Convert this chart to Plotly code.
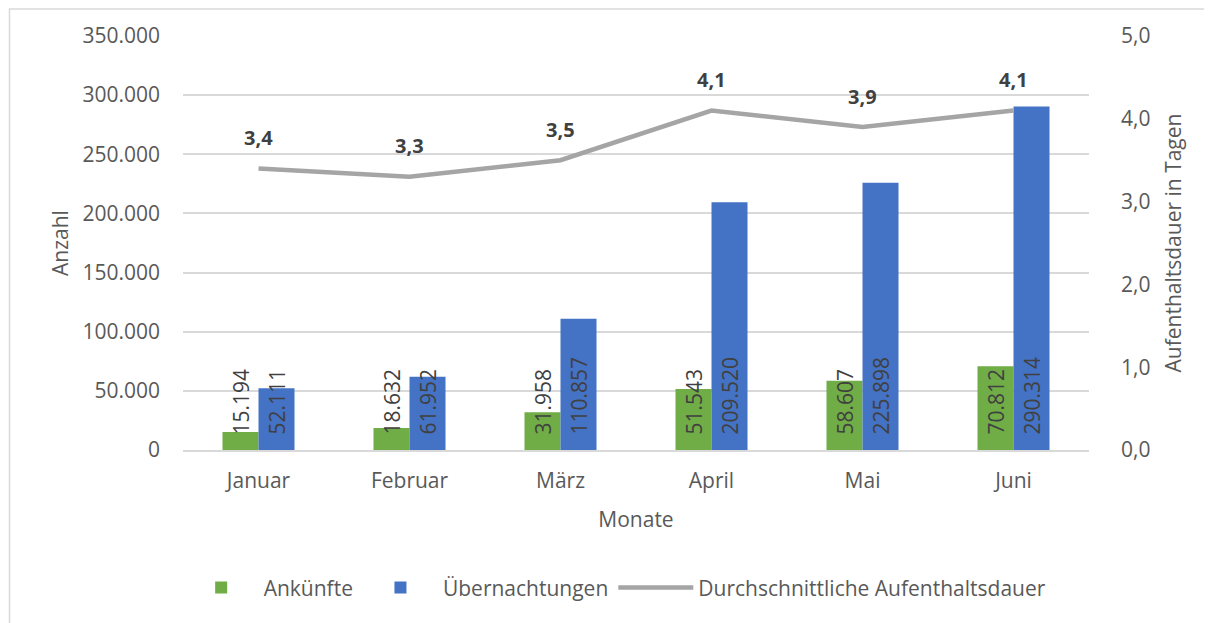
import plotly.graph_objects as go

monate = ["Januar", "Februar", "März", "April", "Mai", "Juni"]
ankuenfte = [15194, 18632, 31958, 51543, 58607, 70812]
uebernachtungen = [52111, 61952, 110857, 209520, 225898, 290314]
dauer = [3.4, 3.3, 3.5, 4.1, 3.9, 4.1]

left_ticks = [0, 50000, 100000, 150000, 200000, 250000, 300000, 350000]
right_ticks = [0, 1, 2, 3, 4, 5]

FONT = "Open Sans"
GREY_TXT = "#595959"
DARK_TXT = "#404040"

def de_int(v):
    return f"{v:,}".replace(",", ".")

def de_dec(v):
    return f"{v:.1f}".replace(".", ",")

fig = go.Figure()
fig.add_trace(go.Bar(x=monate, y=ankuenfte, name="Ankünfte", marker_color="#70AD47",
                     marker_line_width=0))
fig.add_trace(go.Bar(x=monate, y=uebernachtungen, name="Übernachtungen", marker_color="#4472C4",
                     marker_line_width=0))
fig.add_trace(go.Scatter(x=monate, y=dauer, name="Durchschnittliche Aufenthaltsdauer",
                         mode="lines", yaxis="y2",
                         line=dict(color="#A5A5A5", width=4.5)))

annotations = []
for m, a, u, d in zip(monate, ankuenfte, uebernachtungen, dauer):
    annotations.append(dict(x=m, y=0, xref="x", yref="y", text=de_int(a), textangle=-90,
                            xshift=-18, yshift=13, yanchor="bottom", xanchor="center",
                            showarrow=False, font=dict(family=FONT, size=21, color=DARK_TXT)))
    annotations.append(dict(x=m, y=0, xref="x", yref="y", text=de_int(u), textangle=-90,
                            xshift=18, yshift=13, yanchor="bottom", xanchor="center",
                            showarrow=False, font=dict(family=FONT, size=21, color=DARK_TXT)))
    annotations.append(dict(x=m, y=d, xref="x", yref="y2", text="<b>" + de_dec(d) + "</b>",
                            yshift=31, yanchor="middle", xanchor="center", showarrow=False,
                            font=dict(family=FONT, size=20, color=DARK_TXT)))

fig.update_layout(
    width=1212, height=623,
    margin=dict(l=175, r=131, t=28, b=181),
    paper_bgcolor="white", plot_bgcolor="white",
    separators=",.",
    barmode="group", bargap=0.523, bargroupgap=0,
    font=dict(family=FONT, size=21, color=GREY_TXT),
    xaxis=dict(title=dict(text="Monate", font=dict(size=21, color=GREY_TXT), standoff=19),
               showline=True, linecolor="#D9D9D9", linewidth=1.5, ticks="",
               tickfont=dict(size=21, color=GREY_TXT), ticklabelstandoff=11),
    yaxis=dict(title=dict(text="Anzahl", font=dict(size=21, color=GREY_TXT), standoff=8),
               range=[0, 350000], tickvals=left_ticks,
               ticktext=[de_int(v) for v in left_ticks],
               showgrid=True, gridcolor="#D9D9D9", gridwidth=1.5, zeroline=False,
               showline=False, ticks="", ticklabelstandoff=22,
               tickfont=dict(size=21, color=GREY_TXT)),
    yaxis2=dict(title=dict(text="Aufenthaltsdauer in Tagen", font=dict(size=21, color=GREY_TXT),
                           standoff=16),
                overlaying="y", side="right", range=[0, 5], tickvals=right_ticks,
                ticktext=[de_dec(v) for v in right_ticks],
                showgrid=False, zeroline=False, showline=False, ticks="", ticklabelstandoff=31,
                tickfont=dict(size=21, color=GREY_TXT)),
    legend=dict(orientation="h", x=0.477, y=-0.333, xanchor="center", yanchor="middle",
                font=dict(size=21, color=GREY_TXT), itemwidth=75, traceorder="normal"),
    annotations=annotations,
    shapes=[dict(type="rect", xref="paper", yref="paper", x0=-0.1915, x1=1.139, y0=-0.425, y1=1.0655,
                 line=dict(color="#D9D9D9", width=1.5), fillcolor="rgba(0,0,0,0)", layer="below")],
)

fig.write_html("out.html")
